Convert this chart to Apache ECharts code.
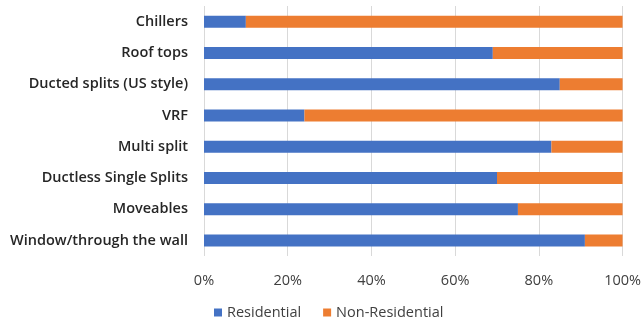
<!DOCTYPE html>
<html>
<head>
<meta charset="utf-8">
<script src="https://cdn.jsdelivr.net/npm/echarts@6/dist/echarts.min.js"></script>
<style>
  html, body { margin: 0; padding: 0; background: #fff; }
  #main { width: 644px; height: 322px; }
</style>
</head>
<body>
<div id="main"></div>
<script>
// categories, bottom to top (as the y axis draws them)
var categories = ['Window/through the wall', 'Moveables', 'Ductless Single Splits', 'Multi split',
    'VRF', 'Ducted splits (US style)', 'Roof tops', 'Chillers'];
var residential = [91, 75, 70, 83, 24, 85, 69, 10];
var nonResidential = [9, 25, 30, 17, 76, 15, 31, 90];
var tickLabels = ['0%', '20%', '40%', '60%', '80%', '100%'];

var labelFont = '"Open Sans", "Noto Sans", sans-serif';

var myChart = echarts.init(document.getElementById('main'));
var option = {
    animation: false,
    textStyle: {fontFamily: labelFont},
    grid: {left: 204, right: 21, top: 6, bottom: 66, containLabel: false},
    legend: {
        top: 305,
        left: 214,
        padding: 0,
        itemWidth: 8,
        itemHeight: 8,
        itemGap: 22,
        icon: 'rect',
        textStyle: {color: '#404040', fontSize: 14.5, fontFamily: labelFont},
        data: ['Residential', 'Non-Residential']
    },
    xAxis: {
        type: 'value',
        min: 0,
        max: 100,
        interval: 20,
        axisLine: {show: false},
        axisTick: {show: false},
        splitLine: {lineStyle: {color: '#d9d9d9', width: 1}},
        axisLabel: {
            color: '#404040',
            fontSize: 14.5,
            margin: 17,
            formatter: function (v) {
                return tickLabels[v / 20];
            }
        }
    },
    yAxis: {
        type: 'category',
        data: categories,
        axisLine: {show: false},
        axisTick: {show: false},
        axisLabel: {color: '#262626', fontSize: 14.5, fontWeight: 600, margin: 16}
    },
    series: [
        {
            name: 'Residential',
            type: 'bar',
            stack: 'total',
            barWidth: 12,
            itemStyle: {color: '#4472C4'},
            data: residential
        },
        {
            name: 'Non-Residential',
            type: 'bar',
            stack: 'total',
            barWidth: 12,
            itemStyle: {color: '#ED7D31'},
            data: nonResidential
        }
    ]
};

myChart.setOption(option);
</script>
</body>
</html>
